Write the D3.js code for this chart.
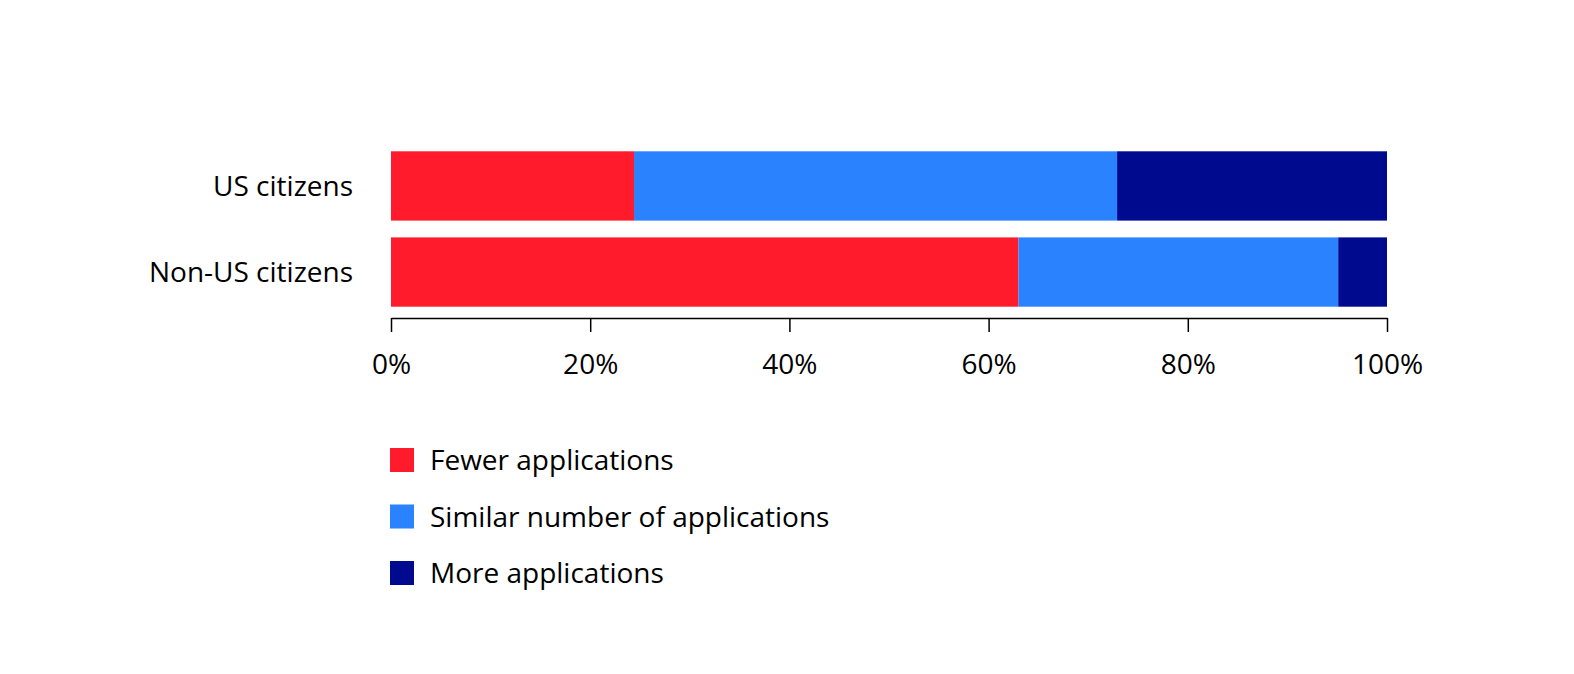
<!DOCTYPE html>
<html><head><meta charset="utf-8">
<script src="https://cdn.jsdelivr.net/npm/d3@7"></script>
<style>html,body{margin:0;padding:0;overflow:hidden;background:#fff}svg{display:block}text{font-family:"Open Sans",sans-serif;fill:#000}</style>
</head><body><svg id="c" width="1574" height="674"></svg>
<script>
const categories = ["US citizens", "Non-US citizens"];
const seriesNames = ["Fewer applications", "Similar number of applications", "More applications"];
const fewer = [24.4, 63.0];
const similar = [48.5, 32.1];
const more = [27.1, 4.9];
const tickValues = [0, 20, 40, 60, 80, 100];
const colors = ["#FF1A2C", "#2A82FF", "#000A8F"];

const svg = d3.select("#c");
const x = d3.scaleLinear().domain([0, 100]).range([391, 1387]);
const yScale = d3.scaleBand().domain(categories).range([147, 311]).paddingInner(0.195).paddingOuter(0.05);
const series = [fewer, similar, more];
const rows = categories.map((c, i) => {
  let acc = 0;
  return series.map((s, k) => { const r = {c, k, x0: acc, x1: acc + s[i]}; acc += s[i]; return r; });
}).flat();
svg.selectAll("rect.bar").data(rows).join("rect").attr("class", "bar")
  .attr("x", d => x(d.x0)).attr("width", d => x(d.x1) - x(d.x0))
  .attr("y", d => yScale(d.c)).attr("height", yScale.bandwidth()).attr("fill", d => colors[d.k]);
svg.selectAll("text.cat").data(categories).join("text").attr("class", "cat")
  .attr("transform", d => `translate(353,${yScale(d) + yScale.bandwidth() / 2 + 10})`)
  .attr("text-anchor", "end").attr("font-size", 28).text(d => d);
const ax = svg.append("g").attr("transform", "translate(0,318)")
  .call(d3.axisBottom(x).tickValues(tickValues).tickFormat(d => d + "%").tickSize(14).tickSizeOuter(0));
ax.select(".domain").attr("stroke", "#000").attr("stroke-width", 1.5);
ax.selectAll(".tick line").attr("stroke", "#000").attr("stroke-width", 1.5);
ax.selectAll(".tick text").attr("font-size", 28).attr("font-family", "Open Sans").attr("fill", "#000").attr("dy", "1.4em");
const lg = svg.selectAll("g.lg").data(seriesNames).join("g").attr("class", "lg")
  .attr("transform", (d, i) => `translate(390,${460 + i * 56.5})`);
lg.append("rect").attr("x", 0).attr("y", -12).attr("width", 24).attr("height", 24).attr("fill", (d, i) => colors[i]);
lg.append("text").attr("x", 40).attr("y", 10).attr("font-size", 28).text(d => d);
</script></body></html>
